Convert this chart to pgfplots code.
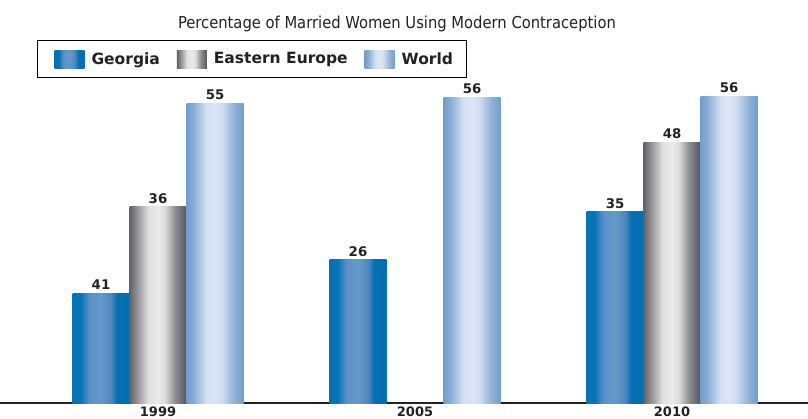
\documentclass[border=0pt]{standalone}
\usepackage{pgfplots}
\pgfplotsset{compat=1.18}
\usepackage{fontspec}
\setmainfont{DejaVu Sans}
\newfontfamily\condfont{DejaVu Sans Condensed}

\pgfdeclarehorizontalshading{georgia}{100bp}{rgb(0bp)=(0.02,0.44,0.70); rgb(25bp)=(0.02,0.44,0.70); rgb(32bp)=(0.03,0.45,0.71); rgb(40bp)=(0.36,0.57,0.78); rgb(50bp)=(0.40,0.60,0.79); rgb(59bp)=(0.30,0.53,0.75); rgb(64bp)=(0.02,0.44,0.70); rgb(75bp)=(0.02,0.43,0.69); rgb(100bp)=(0.02,0.43,0.69)}
\pgfdeclarehorizontalshading{eeurope}{100bp}{rgb(0bp)=(0.38,0.38,0.40); rgb(25bp)=(0.38,0.38,0.40); rgb(32.5bp)=(0.60,0.60,0.62); rgb(41.5bp)=(0.88,0.88,0.88); rgb(50bp)=(0.92,0.92,0.91); rgb(56bp)=(0.86,0.86,0.86); rgb(65bp)=(0.55,0.55,0.57); rgb(75bp)=(0.33,0.34,0.36); rgb(100bp)=(0.33,0.34,0.36)}
\pgfdeclarehorizontalshading{world}{100bp}{rgb(0bp)=(0.45,0.62,0.80); rgb(25bp)=(0.45,0.62,0.80); rgb(31bp)=(0.53,0.68,0.84); rgb(42.5bp)=(0.84,0.88,0.95); rgb(50bp)=(0.86,0.90,0.96); rgb(56bp)=(0.82,0.87,0.94); rgb(67.5bp)=(0.55,0.69,0.84); rgb(75bp)=(0.45,0.62,0.80); rgb(100bp)=(0.45,0.62,0.80)}

\definecolor{txt}{RGB}{34,34,34}

\begin{document}
\begin{tikzpicture}[x=1pt,y=1pt]
\useasboundingbox (0,-15) rectangle (808,403);
\begin{axis}[
  at={(0,0)}, anchor=south west, scale only axis,
  width=808pt, height=313pt,
  xmin=-0.6148, xmax=2.5292, ymin=0, ymax=57.33,
  axis x line*=bottom, axis y line=none,
  x axis line style={line width=1.6pt, color=txt},
  xtick={0,1,2}, xticklabels={1999,2005,2010},
  major tick length=0pt, xtick style={draw=none},
  xticklabel style={font=\bfseries\fontsize{13}{15}\selectfont, text=txt},
  ytick=\empty,
  clip=false,
  bar width=57pt,
  nodes near coords, point meta=explicit symbolic,
  every node near coord/.append style={font=\bfseries\fontsize{13.3}{15}\selectfont, text=txt},
  legend columns=3,
  legend image code/.code={\path (0pt,0pt); \path[#1,draw=none] (5pt,-9pt) rectangle (35pt,9pt);},
  legend style={at={(axis description cs:0.0458,1.1597)}, anchor=north west,
    draw=black, line width=1pt, inner xsep=12pt, inner ysep=9.5pt,
    font=\bfseries\fontsize{15.5}{18}\selectfont, text=txt,
    /tikz/every odd column/.append style={column sep=5pt},
    /tikz/every even column/.append style={column sep=10pt}},
  legend cell align=left,
]
\addplot[ybar, bar shift=0pt, draw=none, shading=georgia] coordinates {(-0.2218,20.1)[41]};
\addplot[ybar, bar shift=0pt, draw=none, shading=eeurope] coordinates {(0,35.9)[36]};
\addplot[ybar, bar shift=0pt, draw=none, shading=world] coordinates {(0.2218,54.9)[55]};
\addplot[ybar, bar shift=0pt, draw=none, shading=georgia, forget plot] coordinates {(0.7782,26.2)[26]};
\addplot[ybar, bar shift=0pt, draw=none, shading=world, forget plot] coordinates {(1.2218,56.0)[56]};
\addplot[ybar, bar shift=0pt, draw=none, shading=georgia, forget plot] coordinates {(1.7782,35.0)[35]};
\addplot[ybar, bar shift=0pt, draw=none, shading=eeurope, forget plot] coordinates {(2,47.8)[48]};
\addplot[ybar, bar shift=0pt, draw=none, shading=world, forget plot] coordinates {(2.2218,56.1)[56]};
\legend{Georgia, Eastern Europe, World}
\node[font=\condfont\fontsize{16.4}{19}\selectfont, text=txt] at (axis description cs:0.4913,1.2125) {Percentage of Married Women Using Modern Contraception};
\end{axis}
\end{tikzpicture}
\end{document}
